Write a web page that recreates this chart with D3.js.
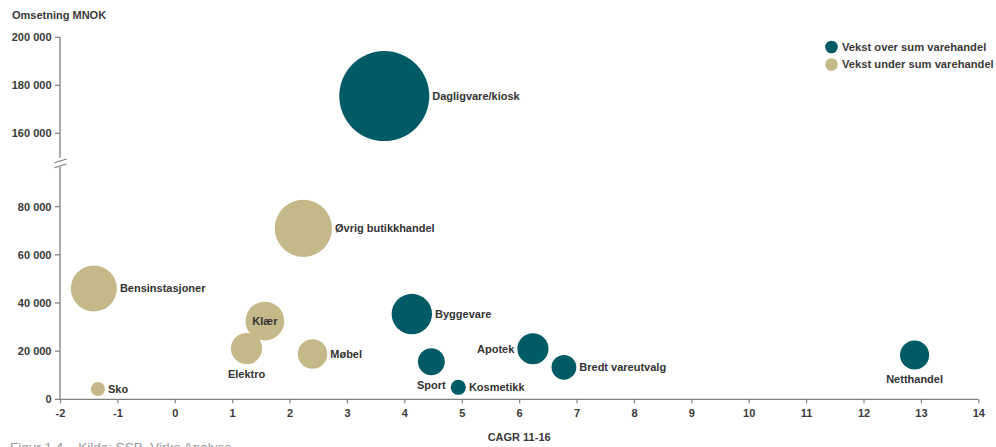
<!DOCTYPE html>
<html>
<head>
<meta charset="utf-8">
<script src="https://cdn.jsdelivr.net/npm/d3@7"></script>
<style>
  html, body { margin: 0; padding: 0; background: #fff; }
  svg { display: block; }
  text { font-family: "Liberation Sans", Arial, sans-serif; }
</style>
</head>
<body>
<svg id="chart" width="996" height="447"></svg>
<script>
// Retail segments: growth (CAGR 2011-16, %) vs. turnover (MNOK)
const segments = ["Dagligvare/kiosk", "Øvrig butikkhandel", "Bensinstasjoner", "Klær", "Elektro",
  "Møbel", "Sko", "Byggevare", "Sport", "Kosmetikk", "Apotek", "Bredt vareutvalg", "Netthandel"];
const cagr = [3.65, 2.24, -1.41, 1.57, 1.25, 2.40, -1.34, 4.13, 4.47, 4.94, 6.24, 6.78, 12.89];
const turnover = [175500, 71000, 46000, 32500, 21100, 18800, 4300, 35400, 15600, 5000, 21000, 13300, 18400];
// true = growth above total retail
const aboveTotal = [true, false, false, false, false, false, false, true, true, true, true, true, true];
const labelSide = ["right", "right", "right", "center", "below", "right", "right", "right", "below",
  "right", "left", "right", "below"];

const xTicks = [-2, -1, 0, 1, 2, 3, 4, 5, 6, 7, 8, 9, 10, 11, 12, 13, 14];
const yTicksLow = [0, 20000, 40000, 60000, 80000];
const yTicksHigh = [160000, 180000, 200000];
const legendLabels = ["Vekst over sum varehandel", "Vekst under sum varehandel"];

const TEAL = "#005b66";
const TAN = "#c5b98a";
const AXIS = "#7f7f7f";
const TXT = "#3a3a3a";

const svg = d3.select("#chart");

const x = d3.scaleLinear().domain([-2, 14]).range([60, 978.3]);
// broken y axis: lower segment 0..96 600, upper segment 149 700..200 000
const yBreakLow = 96600, yBreakHigh = 149700;
const y = d3.scaleLinear()
  .domain([0, yBreakLow, yBreakHigh, 200000])
  .range([399.3, 166.7, 158, 37.3]);
const r = d3.scaleSqrt().domain([0, d3.max(turnover)]).range([0, 45]);

const fmt = v => d3.format(",")(v).replace(/,/g, " ");

// y axis line in two parts with a break marker
const ax = svg.append("g");
ax.append("line").attr("x1", 60).attr("x2", 60).attr("y1", y(0)).attr("y2", y(yBreakLow))
  .attr("stroke", AXIS).attr("stroke-width", 1.3);
ax.append("line").attr("x1", 60).attr("x2", 60).attr("y1", y(yBreakHigh)).attr("y2", y(200000))
  .attr("stroke", AXIS).attr("stroke-width", 1.3);
[0, 5].forEach(d => {
  ax.append("line").attr("x1", 54.5).attr("x2", 66.5)
    .attr("y1", 162.8 + d).attr("y2", 159 + d)
    .attr("stroke", AXIS).attr("stroke-width", 1.2);
});

// y ticks and labels
const yAll = yTicksLow.concat(yTicksHigh);
const yt = svg.append("g").selectAll("g").data(yAll).join("g")
  .attr("transform", d => `translate(0,${y(d)})`);
yt.append("line").attr("x1", 55).attr("x2", 60).attr("stroke", AXIS).attr("stroke-width", 1.2);
yt.append("text").attr("x", 51.5).attr("dy", "0.35em").attr("text-anchor", "end")
  .attr("font-size", 11).attr("font-weight", "bold").attr("fill", TXT)
  .text(d => fmt(d));

// x axis (plain hyphen for negatives)
const xAxis = d3.axisBottom(x).tickValues(xTicks).tickSize(4).tickPadding(6)
  .tickFormat(d => String(d));
const xg = svg.append("g").attr("transform", `translate(0,${y(0)})`).call(xAxis);
xg.select(".domain").attr("stroke", AXIS).attr("stroke-width", 1.3)
  .attr("d", `M${x(-2)},0H${x(14)}`);
xg.selectAll(".tick line").attr("stroke", AXIS).attr("stroke-width", 1.2);
xg.selectAll(".tick text").attr("font-size", 11).attr("font-weight", "bold").attr("fill", TXT)
  .attr("font-family", "Liberation Sans, Arial, sans-serif");

// axis titles
svg.append("text").attr("x", 12).attr("y", 19).attr("font-size", 11).attr("font-weight", "bold")
  .attr("fill", TXT).text("Omsetning MNOK");
svg.append("text").attr("x", x(6)).attr("y", 441).attr("text-anchor", "middle")
  .attr("font-size", 11).attr("font-weight", "bold").attr("fill", TXT).text("CAGR 11-16");

// bubbles
const data = segments.map((s, i) => ({
  name: s, cagr: cagr[i], value: turnover[i], above: aboveTotal[i], side: labelSide[i]
}));
svg.append("g").selectAll("circle").data(data).join("circle")
  .attr("cx", d => x(d.cagr)).attr("cy", d => y(d.value)).attr("r", d => r(d.value))
  .attr("fill", d => d.above ? TEAL : TAN);

// bubble labels
svg.append("g").selectAll("text").data(data).join("text")
  .attr("font-size", 11).attr("font-weight", "bold").attr("fill", "#333")
  .attr("x", d => {
    const cx = x(d.cagr), rr = r(d.value);
    if (d.side === "right") return cx + rr + 3;
    if (d.side === "left") return cx - rr - 3;
    return cx;
  })
  .attr("y", d => {
    const cy = y(d.value), rr = r(d.value);
    return d.side === "below" ? cy + rr + 10 : cy;
  })
  .attr("dy", "0.35em")
  .attr("text-anchor", d => d.side === "right" ? "start" : d.side === "left" ? "end" : "middle")
  .text(d => d.name);

// legend
const lg = svg.append("g").selectAll("g").data(legendLabels).join("g")
  .attr("transform", (d, i) => `translate(831.5,${47 + i * 17.5})`);
lg.append("circle").attr("r", 6.3).attr("fill", (d, i) => i === 0 ? TEAL : TAN);
lg.append("text").attr("x", 10.5).attr("dy", "0.35em").attr("font-size", 11.2)
  .attr("font-weight", "bold").attr("fill", TXT).text(d => d);

// figure caption (runs off the bottom edge of the page)
svg.append("text").attr("x", 10).attr("y", 452).attr("font-size", 13.5)
  .attr("font-family", "Open Sans, sans-serif").attr("fill", "#999")
  .text("Figur 1.4 – Kilde: SSB, Virke Analyse");
</script>
</body>
</html>
